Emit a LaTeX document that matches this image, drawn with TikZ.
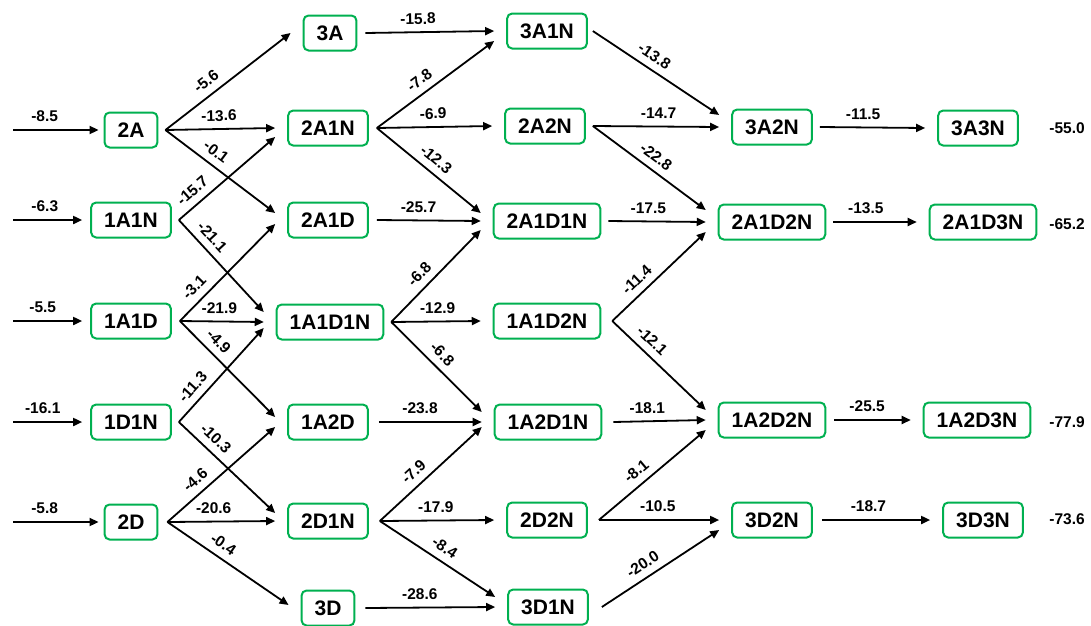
\documentclass[tikz,border=0pt]{standalone}
\usepackage{fontspec}
\setmainfont{Liberation Sans}
\usetikzlibrary{arrows.meta,calc}
\definecolor{boxgreen}{RGB}{0,176,80}
\tikzset{
 box/.style={draw=boxgreen, line width=2pt, rounded corners=5pt, minimum height=35pt, inner xsep=13pt, inner ysep=0pt, font=\fontsize{21}{24}\selectfont\bfseries, text=black},
 arr/.style={-{Triangle[length=9pt,width=8pt]}, line width=1.8pt},
 lab/.style={font=\fontsize{15.5}{18}\selectfont\bfseries, sloped, inner sep=1pt, above=6pt},
 val/.style={font=\fontsize{15.5}{18}\selectfont\bfseries, inner sep=0pt}
}
\newcommand\myedge[6]{\draw[arr] ([xshift=#3pt]#1.east) -- node[lab,pos=#5]{#6} ([xshift=-12pt,yshift=#4pt]#2.west);}
\begin{document}
\begin{tikzpicture}[x=1pt,y=-1pt]
\useasboundingbox (0,0) rectangle (1091,625);
% column 1
\node[box] (n2A) at (131,130) {2A};
\node[box] (n1A1N) at (131,220) {1A1N};
\node[box] (n1A1D) at (131,321) {1A1D};
\node[box] (n1D1N) at (131,422) {1D1N};
\node[box] (n2D) at (131,522) {2D};
% column 2
\node[box] (n3A) at (330,33) {3A};
\node[box] (n2A1N) at (328,128) {2A1N};
\node[box] (n2A1D) at (328,220) {2A1D};
\node[box] (n1A1D1N) at (330,322) {1A1D1N};
\node[box] (n1A2D) at (328,422) {1A2D};
\node[box] (n2D1N) at (328,521) {2D1N};
\node[box] (n3D) at (328,608) {3D};
% column 3
\node[box] (n3A1N) at (547,31) {3A1N};
\node[box] (n2A2N) at (545,126) {2A2N};
\node[box] (n2A1D1N) at (547,221) {2A1D1N};
\node[box] (n1A1D2N) at (547,321) {1A1D2N};
\node[box] (n1A2D1N) at (548,422) {1A2D1N};
\node[box] (n2D2N) at (547,520) {2D2N};
\node[box] (n3D1N) at (548,607) {3D1N};
% column 4
\node[box] (n3A2N) at (772,127) {3A2N};
\node[box] (n2A1D2N) at (772,222) {2A1D2N};
\node[box] (n1A2D2N) at (772,420) {1A2D2N};
\node[box] (n3D2N) at (772,520) {3D2N};
% column 5
\node[box] (n3A3N) at (978,128) {3A3N};
\node[box] (n2A1D3N) at (983,222) {2A1D3N};
\node[box] (n1A2D3N) at (977,420) {1A2D3N};
\node[box] (n3D3N) at (983,520) {3D3N};
% final values
\node[val] (v1) at (1067,128) {-55.0};
\node[val] (v2) at (1067,224) {-65.2};
\node[val] (v3) at (1067,422) {-77.9};
\node[val] (v4) at (1067,519) {-73.6};
% inputs
\coordinate (i2A) at (13,130);
\coordinate (i1A1N) at (13,220);
\coordinate (i1A1D) at (13,321);
\coordinate (i1D1N) at (13,422);
\coordinate (i2D) at (13,522);
\draw[arr] (i2A) -- node[lab,pos=0.37]{-8.5} ([xshift=-5pt]n2A.west);
\draw[arr] (i1A1N) -- node[lab,pos=0.46]{-6.3} ([xshift=-8pt]n1A1N.west);
\draw[arr] (i1A1D) -- node[lab,pos=0.43]{-5.5} ([xshift=-8pt]n1A1D.west);
\draw[arr] (i1D1N) -- node[lab,pos=0.43]{-16.1} ([xshift=-8pt]n1D1N.west);
\draw[arr] (i2D) -- node[lab,pos=0.37]{-5.8} ([xshift=-5pt]n2D.west);
% column 1 -> 2
\myedge{n2A}{n3A}{7}{0}{0.39}{-5.6}
\myedge{n2A}{n2A1N}{7}{0}{0.49}{-13.6}
\myedge{n2A}{n2A1D}{7}{7}{0.39}{-0.1}
\myedge{n1A1N}{n2A1N}{7}{-9}{0.23}{-15.7}
\myedge{n1A1N}{n1A1D1N}{7}{10}{0.28}{-21.1}
\myedge{n1A1D}{n2A1D}{8}{-4}{0.25}{-3.1}
\myedge{n1A1D}{n1A1D1N}{8}{0}{0.47}{-21.9}
\myedge{n1A1D}{n1A2D}{8}{5}{0.31}{-4.9}
\myedge{n1D1N}{n1A1D1N}{7}{-6}{0.28}{-11.3}
\myedge{n1D1N}{n2D1N}{7}{8}{0.29}{-10.3}
\myedge{n2D}{n1A2D}{9}{-5}{0.34}{-4.6}
\myedge{n2D}{n2D1N}{9}{0}{0.43}{-20.6}
\myedge{n2D}{n3D}{9}{3}{0.40}{-0.4}
% column 2 -> 3
\myedge{n3A}{n3A1N}{8}{0}{0.41}{-15.8}
\myedge{n2A1N}{n3A1N}{8}{-10}{0.43}{-7.8}
\myedge{n2A1N}{n2A2N}{8}{0}{0.49}{-6.9}
\myedge{n2A1N}{n2A1D1N}{8}{8}{0.49}{-12.3}
\myedge{n2A1D}{n2A1D1N}{8}{0}{0.4}{-25.7}
\myedge{n1A1D1N}{n2A1D1N}{7}{-9}{0.42}{-6.8}
\myedge{n1A1D1N}{n1A1D2N}{7}{0}{0.52}{-12.9}
\myedge{n1A1D1N}{n1A2D1N}{7}{10}{0.46}{-6.8}
\myedge{n1A2D}{n1A2D1N}{10}{0}{0.4}{-23.8}
\myedge{n2D1N}{n1A2D1N}{11}{-5}{0.42}{-7.9}
\myedge{n2D1N}{n2D2N}{11}{0}{0.49}{-17.9}
\myedge{n2D1N}{n3D1N}{11}{10}{0.50}{-8.4}
\myedge{n3D}{n3D1N}{10}{0}{0.42}{-28.6}
% column 3 -> 4
\myedge{n3A1N}{n3A2N}{5}{12}{0.43}{-13.8}
\myedge{n2A2N}{n3A2N}{7}{0}{0.52}{-14.7}
\myedge{n2A2N}{n2A1D2N}{7}{12}{0.49}{-22.8}
\myedge{n2A1D1N}{n2A1D2N}{7}{0}{0.41}{-17.5}
\myedge{n1A1D2N}{n2A1D2N}{11}{-10}{0.36}{-11.4}
\myedge{n1A1D2N}{n1A2D2N}{11}{10}{0.33}{-12.1}
\myedge{n1A2D1N}{n1A2D2N}{11}{0}{0.37}{-18.1}
\myedge{n2D2N}{n1A2D2N}{11}{-10}{0.43}{-8.1}
\myedge{n2D2N}{n3D2N}{11}{0}{0.49}{-10.5}
\myedge{n3D1N}{n3D2N}{13}{-10}{0.41}{-20.0}
% column 4 -> 5
\myedge{n3A2N}{n3A3N}{7}{0}{0.41}{-11.5}
\myedge{n2A1D2N}{n2A1D3N}{7}{0}{0.39}{-13.5}
\myedge{n1A2D2N}{n1A2D3N}{8}{0}{0.43}{-25.5}
\myedge{n3D2N}{n3D3N}{9}{0}{0.43}{-18.7}
\end{tikzpicture}
\end{document}
